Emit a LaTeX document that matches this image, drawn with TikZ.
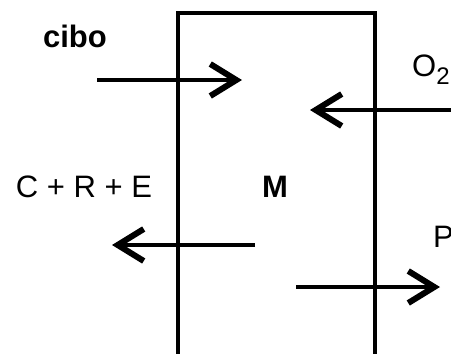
\documentclass[tikz,border=0pt]{standalone}
\usepackage{fontspec}
\setmainfont{Liberation Sans}
\usetikzlibrary{arrows.meta,positioning}

\tikzset{
  flow/.style={line width=4.5pt, -{Straight Barb[length=26pt,width=32pt,line width=6pt]}},
  lbl/.style={inner sep=0pt, font=\fontsize{31}{31}\selectfont},
  boldlbl/.style={lbl, font=\fontsize{31}{31}\selectfont\bfseries},
}

\begin{document}
\begin{tikzpicture}[x=1pt,y=-1pt]

        \useasboundingbox (0,0) rectangle (451,354);
        \clip (0,0) rectangle (451,354);

        % the box
        \node[draw, line width=4.5pt, outer sep=0pt, inner sep=0pt,
              minimum width=197pt, minimum height=400pt,
              anchor=north west] (body) at (178,13) {};

        % labels
        \node[boldlbl] (cibo) at (75,36) {cibo};
        \node[lbl] (crE) at (84,187) {C + R + E};
        \node[boldlbl] (M) at (275,187) {M};
        \node[lbl, anchor=west] (O2) at (412,70) {O\raisebox{-8pt}{\fontsize{24}{24}\selectfont 2}};
        \node[lbl, anchor=west] (P) at (433,237) {P};

        % arrow ends
        \coordinate (ciboA) at (97,80);
        \coordinate (ciboB) at (242,80);
        \coordinate (oxA)   at (460,110);
        \coordinate (oxB)   at (310,110);
        \coordinate (crA)   at (255,245);
        \coordinate (crB)   at (112,245);
        \coordinate (pA)    at (296,287);
        \coordinate (pB)    at (440,287);

        \draw[flow] (ciboA) -- (ciboB);
        \draw[flow] (oxA) -- (oxB);
        \draw[flow] (crA) -- (crB);
        \draw[flow] (pA) -- (pB);

      \end{tikzpicture}
\end{document}
